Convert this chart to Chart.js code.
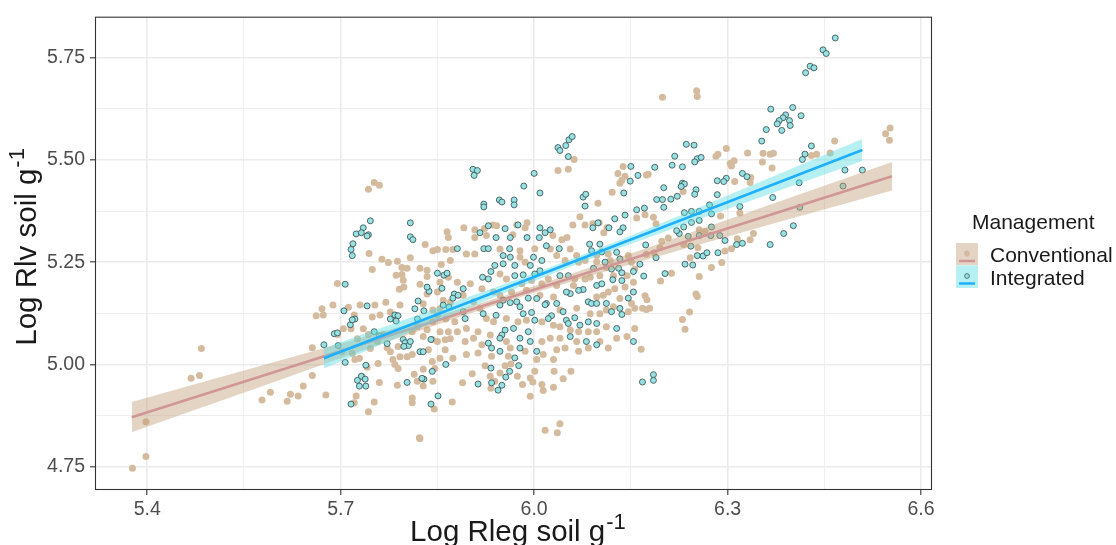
<!DOCTYPE html>
<html>
<head>
<meta charset="utf-8">
<script src="https://cdn.jsdelivr.net/npm/chart.js@4.4.1/dist/chart.umd.min.js"></script>
<style>
  html, body { margin: 0; padding: 0; background: #ffffff; }
</style>
</head>
<body>
<canvas id="chart" width="1116" height="545"></canvas>
<script>
// Root length density (Rlv) against root length (Rleg), log scale, by management system
const management = ['Conventional', 'Integrated'];

const xTicks = [5.4, 5.55, 5.7, 5.85, 6.0, 6.15, 6.3, 6.45, 6.6];
const xTickLabels = ['5.4', '', '5.7', '', '6.0', '', '6.3', '', '6.6'];
const yTicks = [4.75, 4.875, 5.0, 5.125, 5.25, 5.375, 5.5, 5.625, 5.75];
const yTickLabels = ['4.75', '', '5.00', '', '5.25', '', '5.50', '', '5.75'];

// [log Rleg, log Rlv]
const conventionalPoints = [
  [5.484,5.039],[5.468,4.966],[5.481,4.973],[5.398,4.860],[5.398,4.775],[5.377,4.746],
  [5.591,4.932],[5.578,4.913],
  [5.622,4.927],[5.617,4.910],[5.634,4.923],[5.677,4.925],[5.724,4.923],[5.721,4.906],[5.752,4.908],
  [5.743,4.884],[5.811,4.918],[5.811,4.906],[5.822,4.821],[5.823,4.818],[5.845,4.891],[5.873,4.908],
  [5.743,5.428],[5.752,5.445],[5.760,5.438],[5.744,5.271],[5.831,5.293],[5.843,5.278],[5.850,5.281],
  [5.863,5.281],[5.865,5.324],[5.867,5.310],[5.874,5.281],[5.870,5.254],[5.856,5.244],[5.808,5.261],
  [5.764,5.257],[5.774,5.249],[5.788,5.252],[5.795,5.237],[5.803,5.235],[5.749,5.232],[5.823,5.235],
  [5.834,5.230],
  [5.695,5.198],[5.671,5.136],[5.662,5.119],[5.673,5.121],[5.688,5.145],[5.656,5.041],[5.656,4.973],
  [5.642,4.947],[5.712,5.140],[5.730,5.145],[5.721,5.121],[5.716,5.087],[5.722,5.012],[5.729,5.015],
  [5.741,4.993],[5.733,4.971],[5.758,5.002],[5.760,4.956],[5.772,5.041],[5.770,5.152],[5.786,5.218],
  [5.797,5.206],[5.791,5.184],[5.798,5.189],[5.781,5.012],[5.784,5.000],[5.789,4.990],[5.788,4.949],
  [5.803,5.019],[5.811,5.024],[5.814,4.976],[5.819,4.959],[5.828,4.988],[5.828,4.947],[5.843,4.959],
  [5.846,4.990],[5.842,5.007],[5.854,5.015],[5.862,5.036],[5.874,5.015],[5.870,5.063],[5.862,5.060],
  [5.850,5.056],[5.854,5.080],[5.867,5.080],[5.881,5.080],[5.877,5.104],[5.863,5.111],[5.843,5.104],
  [5.834,5.085],[5.819,5.092],[5.811,5.080],[5.850,5.121],[5.854,5.136],[5.870,5.152],[5.859,5.157],
  [5.843,5.133],[5.834,5.172],[5.828,5.148],[5.850,5.177],[5.854,5.201],[5.792,5.145],[5.777,5.128],
  [5.761,5.121],[5.753,5.145],[5.749,5.116],[5.735,5.087],[5.743,5.073],[5.726,5.063],[5.704,5.087],
  [5.695,5.073],[5.702,5.031],[5.718,5.027],[5.746,5.039],[5.757,5.056],[5.766,5.073],[5.777,5.031],
  [5.789,5.044],[5.792,5.019],[5.828,5.068],[5.836,5.036],[5.842,5.061],[5.795,5.220],[5.834,5.215],
  [5.823,5.196],[5.867,5.213],[5.881,5.201],
  [6.062,5.501],[6.037,5.474],[6.053,5.477],[6.138,5.484],[6.130,5.467],[6.133,5.443],[6.136,5.450],
  [6.141,5.460],[6.121,5.421],[6.099,5.394],[6.071,5.361],[6.060,5.341],[6.079,5.341],[6.091,5.344],
  [6.101,5.346],[6.113,5.334],[6.108,5.322],[6.159,5.358],[5.891,5.334],[5.908,5.329],[5.923,5.332],
  [5.936,5.341],[5.942,5.339],[5.908,5.310],[5.926,5.315],[5.973,5.341],[5.989,5.346],[5.986,5.334],
  [5.967,5.317],[6.043,5.305],[6.051,5.310],[6.029,5.315],
  [5.895,5.270],[5.908,5.270],[5.947,5.282],[5.978,5.278],[6.001,5.283],[6.025,5.282],[6.056,5.282],
  [6.066,5.266],[6.097,5.266],[6.115,5.270],[5.978,5.262],[5.986,5.250],[6.035,5.266],[6.048,5.254],
  [6.069,5.250],[6.079,5.254],[6.097,5.251],[6.112,5.237],[6.118,5.254],[6.146,5.266],[6.151,5.250],
  [5.947,5.221],[5.957,5.209],[5.981,5.197],[5.996,5.205],[6.022,5.209],[6.012,5.197],[6.035,5.193],
  [6.061,5.193],[6.063,5.209],[6.079,5.209],[6.087,5.213],[6.102,5.217],[6.123,5.217],[6.144,5.217],
  [6.156,5.233],[6.154,5.201],[6.141,5.189],[6.125,5.185],[6.115,5.177],[6.107,5.169],[6.097,5.165],
  [6.133,5.161],[6.151,5.149],[6.156,5.137],[6.146,5.129],[6.123,5.141],[6.112,5.133],[6.102,5.124],
  [6.087,5.124],[6.066,5.137],[6.040,5.133],[6.030,5.165],[6.009,5.169],[5.988,5.181],[5.965,5.177],
  [5.947,5.169],[5.937,5.177],[5.919,5.185],[5.901,5.197],[5.890,5.169],[5.906,5.153],[5.916,5.137],
  [5.926,5.112],[5.937,5.104],[5.957,5.112],[5.975,5.104],[5.988,5.108],[6.012,5.104],[6.030,5.096],
  [6.040,5.092],[6.056,5.084],[6.069,5.080],[6.084,5.080],[6.097,5.080],[6.112,5.092],[6.128,5.064],
  [6.144,5.068],[6.156,5.088],[5.895,5.088],[5.913,5.080],[5.906,5.064],[5.893,5.056],[5.919,5.048],
  [5.932,5.072],[5.957,5.056],[5.963,5.040],[5.986,5.032],[6.012,5.056],[6.025,5.064],[6.040,5.064],
  [6.066,5.056],[6.084,5.040],[6.102,5.056],[6.115,5.040],[6.014,5.024],[6.035,5.036],[6.048,5.040],
  [6.069,5.032],[5.895,5.024],[5.913,5.028],[5.934,5.020],[5.960,5.020],[6.004,5.012],[6.030,5.012],
  [5.904,4.977],[5.889,4.955],[5.924,4.997],[5.932,4.971],[5.933,4.942],[5.939,4.959],[5.947,4.979],
  [5.955,4.997],[5.964,5.001],[5.974,4.971],[5.982,4.951],[5.994,4.967],[5.998,4.957],[6.001,4.983],
  [5.994,4.922],[6.012,4.951],[6.014,4.936],[6.030,4.944],[6.031,4.983],[6.045,4.965],[6.057,4.983],
  [6.017,4.839],[6.040,4.855],[6.036,4.833],
  [6.199,5.653],[6.252,5.669],[6.253,5.655],[6.285,5.514],[6.298,5.528],[6.282,5.509],[6.331,5.517],
  [6.355,5.516],[6.366,5.514],[6.371,5.516],[6.354,5.495],[6.369,5.480],[6.306,5.485],[6.310,5.498],
  [6.304,5.491],[6.336,5.457],[6.335,5.445],[6.311,5.447],[6.231,5.423],[6.174,5.463],[6.177,5.465],
  [6.185,5.360],[6.189,5.344],[6.172,5.366],[6.198,5.301],[6.195,5.285],[6.186,5.273],[6.174,5.269],
  [6.208,5.309],[6.232,5.293],[6.242,5.261],[6.254,5.285],[6.256,5.329],[6.265,5.325],[6.289,5.363],
  [6.319,5.370],[6.315,5.307],[6.306,5.283],[6.296,5.277],[6.335,5.305],[6.340,5.320],[6.291,5.249],
  [6.275,5.237],[6.256,5.215],[6.213,5.223],[6.196,5.204],[6.251,5.172],[6.253,5.166],[6.172,5.168],
  [6.175,5.158],[6.168,5.137],[6.174,5.134],[6.179,5.137],[6.241,5.128],[6.230,5.110],
  [6.234,5.086],[6.166,5.037],
  [6.552,5.578],[6.545,5.564],[6.551,5.548],[6.466,5.546],[6.438,5.514],[6.430,5.511],[6.459,5.517]
];

const integratedPoints = [
  [5.746,5.351],[5.735,5.334],[5.724,5.319],[5.732,5.322],[5.743,5.317],[5.741,5.314],[5.719,5.295],
  [5.716,5.281],[5.718,5.266],[5.808,5.346],[5.808,5.312],[5.812,5.305],[5.881,5.283],
  [5.707,5.196],[5.705,5.131],[5.741,5.143],[5.722,5.111],[5.715,5.097],[5.718,5.109],[5.690,5.075],
  [5.695,5.077],[5.674,5.048],[5.696,5.046],[5.707,5.005],[5.739,4.998],[5.732,4.971],[5.738,4.964],
  [5.726,4.961],[5.729,4.947],[5.739,4.947],[5.752,5.080],[5.760,5.070],[5.777,5.111],[5.784,5.121],
  [5.789,5.119],[5.786,5.106],[5.772,5.051],[5.797,5.061],[5.800,5.053],[5.805,5.046],[5.808,5.056],
  [5.798,5.044],[5.803,4.956],[5.823,5.031],[5.828,5.031],[5.840,5.061],[5.842,4.983],[5.829,4.964],
  [5.826,4.966],[5.863,5.000],[5.815,5.136],[5.820,5.155],[5.829,5.131],[5.819,5.111],[5.837,5.179],
  [5.834,5.189],[5.857,5.186],[5.850,5.223],[5.860,5.218],[5.865,5.223],[5.868,5.140],[5.876,5.172],
  [5.874,5.162],[5.882,5.169],[5.859,5.145],
  [5.716,4.903],[5.851,4.923],[5.840,4.903],
  [5.905,5.477],[5.912,5.474],[5.907,5.462],[6.000,5.467],[5.984,5.436],[6.009,5.419],[5.922,5.392],
  [5.922,5.385],[5.946,5.402],[5.950,5.397],[5.969,5.402],[5.969,5.390],[6.037,5.530],[6.040,5.523],
  [6.049,5.535],[6.054,5.549],[6.059,5.557],[6.053,5.508],[6.076,5.409],[6.080,5.416],[6.079,5.387],
  [6.150,5.484],[6.161,5.462],[6.149,5.448],[6.139,5.419],[6.159,5.378],[6.141,5.365],[6.125,5.356],
  [6.099,5.346],[6.091,5.334],[6.116,5.334],[6.138,5.334],[6.133,5.324],[5.929,5.339],[5.916,5.322],
  [5.955,5.332],[5.941,5.310],[5.963,5.310],[5.975,5.341],[6.009,5.334],[6.017,5.322],[6.025,5.329],
  [6.008,5.310],[5.989,5.310],
  [5.922,5.283],[5.929,5.283],[5.962,5.283],[6.019,5.290],[6.039,5.283],[6.086,5.294],[6.102,5.294],
  [5.952,5.266],[5.963,5.262],[5.999,5.262],[6.012,5.254],[5.970,5.242],[5.994,5.242],[5.939,5.242],
  [5.952,5.246],[5.933,5.227],[5.920,5.213],[5.929,5.209],[5.970,5.217],[5.983,5.219],[6.001,5.221],
  [6.040,5.217],[6.053,5.217],[6.009,5.229],[6.089,5.278],[6.105,5.275],[6.128,5.274],[6.133,5.258],
  [6.131,5.235],[6.136,5.224],[6.154,5.227],[6.092,5.235],[6.110,5.250],[6.120,5.233],[6.097,5.193],
  [6.105,5.197],[6.136,5.205],[6.122,5.207],[6.076,5.183],[6.069,5.181],[6.056,5.173],[6.050,5.177],
  [6.035,5.149],[6.019,5.149],[6.004,5.161],[5.991,5.162],[5.963,5.151],[5.973,5.153],[5.978,5.141],
  [5.952,5.157],[5.947,5.145],[5.941,5.120],[5.921,5.124],[5.893,5.112],[5.890,5.185],[5.890,5.129],
  [5.996,5.127],[5.983,5.124],[6.017,5.146],[6.027,5.119],[6.022,5.112],[6.045,5.129],[6.050,5.108],
  [6.063,5.114],[6.053,5.100],[6.084,5.104],[6.097,5.100],[6.071,5.096],[6.084,5.153],[6.089,5.149],
  [6.097,5.149],[6.112,5.149],[6.120,5.129],[6.133,5.137],[6.136,5.122],[6.146,5.162],[6.154,5.177],
  [6.001,5.108],[5.991,5.080],[5.968,5.088],[5.955,5.084],[5.950,5.072],[5.947,5.064],[5.978,5.064],
  [5.994,5.056],[6.004,5.032],[5.978,5.040],[5.947,5.032],[5.929,5.052],[5.934,5.040],[5.970,5.016],
  [6.056,5.068],[6.081,5.056],[6.097,5.048],[6.128,5.088],[6.154,5.056],
  [5.933,4.991],[5.913,4.952],[5.934,4.955],[5.950,4.949],[5.944,4.937],[5.962,4.983],[5.956,4.969],
  [5.976,4.997],
  [6.367,5.624],[6.401,5.628],[6.414,5.608],[6.390,5.610],[6.386,5.603],[6.380,5.596],[6.377,5.588],
  [6.396,5.596],[6.397,5.584],[6.384,5.572],[6.360,5.574],[6.353,5.546],[6.236,5.538],[6.248,5.536],
  [6.218,5.509],[6.253,5.503],[6.259,5.506],[6.249,5.495],[6.214,5.487],[6.187,5.482],[6.230,5.483],
  [6.430,5.534],[6.420,5.514],[6.416,5.501],[6.323,5.467],[6.330,5.459],[6.298,5.455],[6.284,5.449],
  [6.294,5.447],[6.230,5.443],[6.233,5.441],[6.201,5.432],[6.228,5.435],[6.251,5.427],[6.249,5.416],
  [6.284,5.415],[6.190,5.403],[6.199,5.403],[6.212,5.404],[6.222,5.411],[6.370,5.408],[6.411,5.444],
  [6.201,5.384],[6.233,5.371],[6.244,5.374],[6.256,5.374],[6.275,5.368],[6.272,5.390],[6.319,5.386],
  [6.171,5.382],[6.232,5.336],[6.244,5.347],[6.256,5.352],[6.275,5.336],[6.288,5.315],[6.274,5.315],
  [6.256,5.315],[6.239,5.313],[6.225,5.320],[6.221,5.327],[6.173,5.292],[6.189,5.261],[6.164,5.245],
  [6.243,5.289],[6.253,5.266],[6.262,5.265],[6.268,5.273],[6.285,5.273],[6.296,5.303],[6.314,5.293],
  [6.323,5.296],[6.366,5.293],[6.387,5.320],[6.402,5.339],[6.412,5.384],[6.234,5.245],[6.246,5.243],
  [6.203,5.222],[6.170,5.216],
  [6.168,4.957],[6.185,4.975],[6.185,4.961],
  [6.467,5.798],[6.448,5.769],[6.453,5.760],[6.428,5.729],[6.434,5.725],[6.421,5.713],[6.482,5.475],
  [6.509,5.475],[6.479,5.436]
];

// fitted linear trend and 95% band
const conventionalFitX = [5.376, 6.555];
const conventionalFitY = [4.871, 5.460];
const conventionalBandX = [5.376, 5.5, 5.65, 5.8, 5.95, 6.1, 6.25, 6.4, 6.555];
const conventionalBandLow = [4.834, 4.903, 4.987, 5.070, 5.150, 5.222, 5.290, 5.357, 5.425];
const conventionalBandHigh = [4.908, 4.963, 5.029, 5.096, 5.166, 5.244, 5.326, 5.409, 5.495];

const integratedFitX = [5.674, 6.509];
const integratedFitY = [5.015, 5.524];
const integratedBandX = [5.674, 5.8, 5.95, 6.07, 6.2, 6.35, 6.509];
const integratedBandLow = [4.990, 5.074, 5.172, 5.247, 5.323, 5.408, 5.497];
const integratedBandHigh = [5.040, 5.110, 5.194, 5.265, 5.347, 5.446, 5.551];

const FONT = '"Liberation Sans", Arial, Helvetica, sans-serif';
const colors = {
  convPoint: 'rgb(212,187,158)',
  convLine: 'rgb(208,150,150)',
  convBand: 'rgba(196,160,122,0.45)',
  intPoint: 'rgb(150,226,226)',
  intEdge: '#34474a',
  intLine: 'rgb(30,176,255)',
  intBand: 'rgba(95,222,226,0.45)'
};

const toXY = (xs, ys) => xs.map((x, i) => ({ x: x, y: ys[i] }));
const pairs = arr => arr.map(p => ({ x: p[0], y: p[1] }));

function bandLine(xs, ys, order) {
  return {
    type: 'line', data: toXY(xs, ys), order: order,
    borderWidth: 0, borderColor: 'rgba(0,0,0,0)', pointRadius: 0,
    cubicInterpolationMode: 'monotone', fill: false
  };
}

// text with a raised "-1" exponent, centred on (x, y)
function drawSupText(ctx, base, sup, x, y, size) {
  const supSize = size * 0.75;
  ctx.font = size + 'px ' + FONT;
  const w1 = ctx.measureText(base).width;
  ctx.font = supSize + 'px ' + FONT;
  const w2 = ctx.measureText(sup).width;
  const start = x - (w1 + w2) / 2;
  ctx.textAlign = 'left';
  ctx.textBaseline = 'alphabetic';
  ctx.font = size + 'px ' + FONT;
  ctx.fillText(base, start, y);
  ctx.font = supSize + 'px ' + FONT;
  ctx.fillText(sup, start + w1 + 1, y - size * 0.42);
}

const decorations = {
  id: 'decorations',
  afterDraw(chart) {
    const { ctx, chartArea: a } = chart;
    ctx.save();
    // panel border
    ctx.strokeStyle = '#333333';
    ctx.lineWidth = 1.1;
    ctx.strokeRect(a.left + 0.5, a.top + 0.5, a.right - a.left - 1, a.bottom - a.top - 1);

    // axis titles
    ctx.fillStyle = '#1a1a1a';
    drawSupText(ctx, 'Log Rleg soil g', '-1', (a.left + a.right) / 2 + 4, 541, 29.5);
    ctx.save();
    ctx.translate(36, (a.top + a.bottom) / 2 - 6);
    ctx.rotate(-Math.PI / 2);
    drawSupText(ctx, 'Log Rlv soil g', '-1', 0, 0, 29.5);
    ctx.restore();

    // legend
    const lx = a.right + 24, ly = 208;
    ctx.fillStyle = '#1a1a1a';
    ctx.font = '21px ' + FONT;
    ctx.textAlign = 'left';
    ctx.textBaseline = 'middle';
    ctx.fillText('Management', lx + 16, ly + 15);
    const keys = [
      { fill: colors.convBand, line: colors.convLine, pt: colors.convPoint, edge: null },
      { fill: colors.intBand, line: colors.intLine, pt: colors.intPoint, edge: colors.intEdge }
    ];
    keys.forEach((k, i) => {
      const kx = lx, ky = ly + 35 + i * 22.5;
      ctx.fillStyle = '#ffffff';
      ctx.fillRect(kx, ky, 22, 22.5);
      ctx.fillStyle = k.fill;
      ctx.fillRect(kx, ky, 22, 22.5);
      ctx.strokeStyle = k.line;
      ctx.lineWidth = 2.5;
      ctx.beginPath();
      ctx.moveTo(kx + 3, ky + 18);
      ctx.lineTo(kx + 19, ky + 18);
      ctx.stroke();
      ctx.beginPath();
      ctx.arc(kx + 11, ky + 10.5, k.edge ? 2.4 : 2.9, 0, Math.PI * 2);
      ctx.fillStyle = k.pt;
      ctx.fill();
      if (k.edge) {
        ctx.strokeStyle = k.edge;
        ctx.lineWidth = 0.7;
        ctx.stroke();
      }
      ctx.fillStyle = '#1a1a1a';
      ctx.font = '21px ' + FONT;
      ctx.fillText(management[i], kx + 34, ky + 13.5);
    });
    ctx.restore();
  }
};

const isMajor = c => c.index % 2 === 0;

new Chart(document.getElementById('chart'), {
  type: 'scatter',
  data: {
    datasets: [
      {
        label: management[0], data: pairs(conventionalPoints), order: 10,
        pointRadius: 3.5, pointBackgroundColor: colors.convPoint, pointBorderWidth: 0
      },
      {
        label: management[1], data: pairs(integratedPoints), order: 9,
        pointRadius: 3.0, pointBackgroundColor: colors.intPoint,
        pointBorderColor: colors.intEdge, pointBorderWidth: 0.8
      },
      bandLine(conventionalBandX, conventionalBandLow, 8),
      Object.assign(bandLine(conventionalBandX, conventionalBandHigh, 7),
        { fill: { target: 2 }, backgroundColor: colors.convBand }),
      {
        type: 'line', data: toXY(conventionalFitX, conventionalFitY), order: 6,
        borderColor: colors.convLine, borderWidth: 2.6, pointRadius: 0, fill: false
      },
      bandLine(integratedBandX, integratedBandLow, 5),
      Object.assign(bandLine(integratedBandX, integratedBandHigh, 4),
        { fill: { target: 5 }, backgroundColor: colors.intBand }),
      {
        type: 'line', data: toXY(integratedFitX, integratedFitY), order: 3,
        borderColor: colors.intLine, borderWidth: 2.6, pointRadius: 0, fill: false
      }
    ]
  },
  options: {
    responsive: false,
    animation: false,
    devicePixelRatio: 1,
    layout: { padding: { left: 0, top: 12, right: 184, bottom: 0 } },
    plugins: { legend: { display: false }, tooltip: { enabled: false } },
    scales: {
      x: {
        type: 'linear', min: 5.319, max: 6.617,
        afterBuildTicks: s => { s.ticks = xTicks.map(v => ({ value: v })); },
        afterFit: s => { s.height = 55; },
        border: { display: false },
        grid: {
          color: '#ebebeb',
          lineWidth: c => isMajor(c) ? 1.6 : 0.8,
          tickLength: 5,
          tickWidth: 1.1,
          tickColor: c => isMajor(c) ? '#333333' : 'rgba(0,0,0,0)'
        },
        ticks: {
          autoSkip: false, maxRotation: 0, padding: 3,
          color: '#4d4d4d', font: { family: FONT, size: 19.5 },
          callback: (v, i) => xTickLabels[i]
        }
      },
      y: {
        type: 'linear', min: 4.693, max: 5.850,
        afterBuildTicks: s => { s.ticks = yTicks.map(v => ({ value: v })); },
        afterFit: s => { s.width = 95; },
        border: { display: false },
        grid: {
          color: '#ebebeb',
          lineWidth: c => isMajor(c) ? 1.6 : 0.8,
          tickLength: 5,
          tickWidth: 1.1,
          tickColor: c => isMajor(c) ? '#333333' : 'rgba(0,0,0,0)'
        },
        ticks: {
          autoSkip: false, padding: 5,
          color: '#4d4d4d', font: { family: FONT, size: 19.5 },
          callback: (v, i) => yTickLabels[i]
        }
      }
    }
  },
  plugins: [decorations]
});
</script>
</body>
</html>
